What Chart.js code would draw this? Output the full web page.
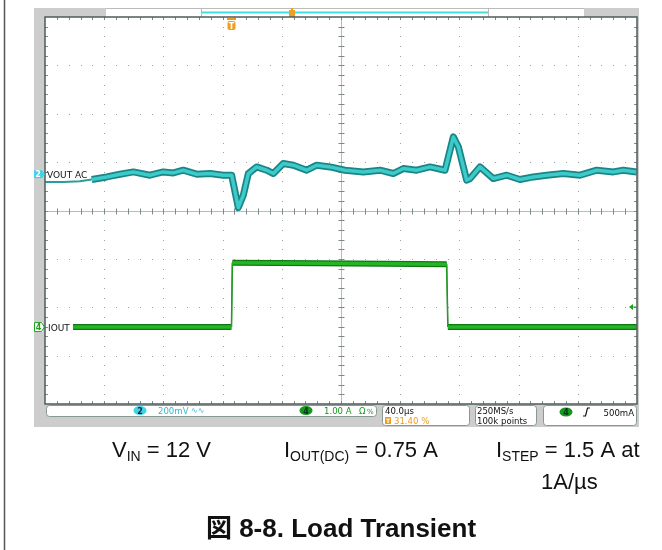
<!DOCTYPE html>
<html>
<head>
<meta charset="utf-8">
<script src="https://cdn.jsdelivr.net/npm/chart.js@4/dist/chart.umd.min.js"></script>
<style>
  html, body { margin: 0; padding: 0; background: #fff; }
  canvas { display: block; }
</style>
</head>
<body>
<canvas id="scope" width="662" height="550"></canvas>
<script>
// time axis (us, 0 = trigger), 40 us/div, trigger at 31.40 % of record
const timePerDiv = 40;
const triggerPct = 31.4;

// channel 2 : VOUT AC (mV), 200 mV/div
const voutPreT = [-125.6, -113.2, -102.0, -94.0];
const voutPreMv = [-31.8, -31.8, -28.9, -21.9];
const voutT = [-94.0, -83.9, -74.9, -65.9, -54.7, -45.7, -38.9, -32.2, -23.1, -14.1, -5.1, 0.5, 5.0, 8.4, 11.8, 17.4,
  24.2, 28.7, 35.4, 42.2, 51.2, 58.0, 67.0, 77.1, 89.5, 100.8, 109.7, 116.5, 125.5, 134.5, 144.7, 150.3, 153.7,
  159.3, 161.6, 168.3, 177.3, 186.4, 195.3, 204.3, 213.4, 224.6, 235.9, 247.2, 258.4, 265.1, 274.2];
const voutMv = [-21.9, -11.2, 0, 9.5, -4.1, 9.5, 5.4, 16.5, 0, 2.9, -4.1, -4.1, -137.7, -86.8, 2.9, 30.2,
  16.5, 2.9, 44.2, 37.2, 16.5, 37.2, 30.2, 16.5, 9.5, 16.5, 2.9, 23.6, 16.5, 30.2, 16.5, 154.2, 112.9,
  -24.8, -17.8, 30.2, -17.8, -4.1, -21.9, -11.2, -4.1, 2.9, -4.1, 16.5, 9.5, 16.5, 9.5];

// channel 4 : IOUT (A), 1.00 A/div
const ioutT = [-106.7, 0.4, 1.0, 60, 145.8, 146.6, 274.4];
const ioutA = [0, 0, 1.33, 1.32, 1.30, 0, 0];
const triggerLevelA = 0.42;

// readouts
const ch2Scale = "200mV";
const ch4Scale = "1.00 A";
const horizScale = "40.0µs";
const trigPosText = "31.40 %";
const sampleRate = "250MS/s";
const recordLen = "100k points";
const trigLevelText = "500mA";

const tMin = -timePerDiv * 10 * triggerPct / 100;
const tMax = tMin + timePerDiv * 10;

function pts(xs, ys) { return xs.map((x, i) => ({ x: x, y: ys[i] })); }

// fast edges of the current step are drawn thin, like on the scope screen
function edgeWidth(flat, steep) {
  return c => Math.abs(c.p1.parsed.x - c.p0.parsed.x) < 2 ? steep : flat;
}

function rrect(ctx, x, y, w, h, r) {
  ctx.beginPath();
  ctx.moveTo(x + r, y);
  ctx.lineTo(x + w - r, y); ctx.quadraticCurveTo(x + w, y, x + w, y + r);
  ctx.lineTo(x + w, y + h - r); ctx.quadraticCurveTo(x + w, y + h, x + w - r, y + h);
  ctx.lineTo(x + r, y + h); ctx.quadraticCurveTo(x, y + h, x, y + h - r);
  ctx.lineTo(x, y + r); ctx.quadraticCurveTo(x, y, x + r, y);
  ctx.closePath();
}

function runs(ctx, x, y, parts) {
  parts.forEach(p => {
    ctx.font = p[1] + 'px "Liberation Sans", Arial, sans-serif';
    ctx.fillText(p[0], x, y + p[2]);
    x += ctx.measureText(p[0]).width;
  });
}

const scopePlugin = {
  id: 'scope',
  beforeDraw(chart) {
    const ctx = chart.ctx, a = chart.chartArea;
    ctx.save();
    ctx.fillStyle = '#fff';
    ctx.fillRect(0, 0, chart.width, chart.height);
    // page rule on the left
    ctx.strokeStyle = '#555';
    ctx.lineWidth = 1.5;
    ctx.beginPath(); ctx.moveTo(4.5, 0); ctx.lineTo(4.5, chart.height); ctx.stroke();
    // scope frame
    ctx.fillStyle = '#cdcdcd';
    ctx.fillRect(34, 8, 605, 419);
    // record strip on top
    ctx.fillStyle = '#fff';
    ctx.fillRect(106, 8, 478, 9);
    ctx.strokeStyle = '#bbb'; ctx.lineWidth = 1;
    ctx.beginPath(); ctx.moveTo(106, 8.5); ctx.lineTo(584, 8.5); ctx.stroke();
    ctx.beginPath(); ctx.moveTo(201.5, 8); ctx.lineTo(201.5, 17); ctx.moveTo(488.5, 8); ctx.lineTo(488.5, 17); ctx.stroke();
    ctx.strokeStyle = '#45dede'; ctx.lineWidth = 2;
    ctx.beginPath(); ctx.moveTo(202, 12.5); ctx.lineTo(488, 12.5); ctx.stroke();
    ctx.fillStyle = '#eea020';
    ctx.fillRect(289, 10, 6, 7);
    ctx.fillRect(291, 8, 2, 2);
    // plot face
    ctx.fillStyle = '#fff';
    ctx.fillRect(a.left, a.top, a.right - a.left, a.bottom - a.top);
    ctx.restore();
  },
  beforeDatasetsDraw(chart) {
    const ctx = chart.ctx, a = chart.chartArea;
    const dx = (a.right - a.left) / 10, dy = (a.bottom - a.top) / 8;
    ctx.save();
    ctx.fillStyle = '#9aa4a4';
    for (let i = 1; i < 10; i++) {
      if (i === 5) continue;
      const x = Math.round(a.left + i * dx);
      for (let j = 1; j < 40; j++) ctx.fillRect(x, Math.round(a.top + j * dy / 5), 1, 1);
    }
    for (let k = 1; k < 8; k++) {
      if (k === 4) continue;
      const y = Math.round(a.top + k * dy);
      for (let j = 1; j < 50; j++) ctx.fillRect(Math.round(a.left + j * dx / 5), y, 1, 1);
    }
    // centre axes
    const cx = Math.round(a.left + 5 * dx) + 0.5, cy = Math.round(a.top + 4 * dy) + 0.5;
    ctx.strokeStyle = '#b4bcbc'; ctx.lineWidth = 1;
    ctx.beginPath();
    ctx.moveTo(cx, a.top); ctx.lineTo(cx, a.bottom);
    ctx.moveTo(a.left, cy); ctx.lineTo(a.right, cy);
    ctx.stroke();
    ctx.strokeStyle = '#7d8a8a';
    ctx.beginPath();
    for (let j = 1; j < 50; j++) {
      const x = Math.round(a.left + j * dx / 5) + 0.5;
      ctx.moveTo(x, cy - 3); ctx.lineTo(x, cy + 3);
      ctx.moveTo(x, a.top); ctx.lineTo(x, a.top + 3);
      ctx.moveTo(x, a.bottom); ctx.lineTo(x, a.bottom - 3);
    }
    for (let j = 1; j < 40; j++) {
      const y = Math.round(a.top + j * dy / 5) + 0.5;
      ctx.moveTo(cx - 3, y); ctx.lineTo(cx + 3, y);
      ctx.moveTo(a.left, y); ctx.lineTo(a.left + 3, y);
      ctx.moveTo(a.right, y); ctx.lineTo(a.right - 3, y);
    }
    ctx.stroke();
    ctx.restore();
  },
  afterDatasetsDraw(chart) {
    const ctx = chart.ctx, a = chart.chartArea;
    const xs = chart.scales.x, yv = chart.scales.yv, yi = chart.scales.yi;
    ctx.save();
    ctx.strokeStyle = '#4d5c5c'; ctx.lineWidth = 1.5;
    ctx.strokeRect(a.left, a.top, a.right - a.left, a.bottom - a.top);

    // trigger position marker
    const tx = Math.round(xs.getPixelForValue(0));
    ctx.fillStyle = '#ee9d1c';
    ctx.fillRect(tx - 4, 18, 9, 2);
    rrect(ctx, tx - 3.5, 21, 8, 9, 2); ctx.fill();
    ctx.fillStyle = '#fff';
    ctx.font = 'bold 8px "DejaVu Sans", sans-serif';
    ctx.textAlign = 'center';
    ctx.fillText('T', tx + 0.5, 28.5);

    // trigger level arrow
    const ty = Math.round(yi.getPixelForValue(triggerLevelA));
    ctx.fillStyle = '#1ea01e';
    ctx.beginPath(); ctx.moveTo(a.right - 8, ty); ctx.lineTo(a.right - 4, ty - 3); ctx.lineTo(a.right - 4, ty + 3); ctx.closePath(); ctx.fill();
    ctx.fillRect(a.right - 4, ty - 0.5, 3, 1);

    // channel 2 label
    const g2 = yv.getPixelForValue(0);
    ctx.fillStyle = '#3fd3e3';
    ctx.fillRect(34, g2 - 4, 8, 8);
    ctx.beginPath(); ctx.moveTo(42, g2 - 4); ctx.lineTo(45, g2); ctx.lineTo(42, g2 + 4); ctx.fill();
    ctx.fillStyle = '#fff';
    ctx.font = 'bold 8px "DejaVu Sans", sans-serif';
    ctx.fillText('2', 38, g2 + 3);
    ctx.textAlign = 'left';
    ctx.fillStyle = '#111';
    ctx.font = '9px "DejaVu Sans", sans-serif';
    ctx.fillText('VOUT AC', 47, g2 + 3.5);

    // channel 4 label
    const g4 = yi.getPixelForValue(0);
    ctx.fillStyle = '#fff';
    ctx.fillRect(34, g4 - 5, 9, 10);
    ctx.strokeStyle = '#1ea01e'; ctx.lineWidth = 1;
    ctx.beginPath();
    ctx.moveTo(34.5, g4 - 4.5); ctx.lineTo(41.5, g4 - 4.5); ctx.lineTo(44.5, g4); ctx.lineTo(41.5, g4 + 4.5); ctx.lineTo(34.5, g4 + 4.5); ctx.closePath();
    ctx.stroke();
    ctx.fillStyle = '#1ea01e';
    ctx.font = 'bold 8px "DejaVu Sans", sans-serif';
    ctx.textAlign = 'center';
    ctx.fillText('4', 38.5, g4 + 3);
    ctx.textAlign = 'left';
    ctx.fillStyle = '#111';
    ctx.font = '9px "DejaVu Sans", sans-serif';
    ctx.fillText('IOUT', 48, g4 + 3.5);
    ctx.restore();
  },
  afterDraw(chart) {
    const ctx = chart.ctx;
    ctx.save();
    const font = '9.5px "DejaVu Sans Condensed", "DejaVu Sans", sans-serif';
    ctx.strokeStyle = '#889a90'; ctx.lineWidth = 1; ctx.fillStyle = '#fff';
    [[46.5, 405.5, 330, 11], [382.5, 405.5, 87, 20], [475.5, 405.5, 61, 20], [543.5, 405.5, 93, 20]].forEach(b => {
      rrect(ctx, b[0], b[1], b[2], b[3], 3); ctx.fill(); ctx.stroke();
    });
    // ch2 readout
    ctx.fillStyle = '#3fd3e3';
    ctx.beginPath(); ctx.ellipse(140, 410.5, 6.5, 4.5, 0, 0, Math.PI * 2); ctx.fill();
    ctx.fillStyle = '#124';
    ctx.font = 'bold 8px "DejaVu Sans", sans-serif';
    ctx.textAlign = 'center';
    ctx.fillText('2', 140, 413.5);
    ctx.textAlign = 'left';
    ctx.fillStyle = '#2fb9d2';
    ctx.font = font;
    ctx.fillText(ch2Scale, 158, 414);
    ctx.font = '8px "DejaVu Sans", sans-serif';
    ctx.fillText('∿∿', 191, 413);
    // ch4 readout
    ctx.fillStyle = '#16981a';
    ctx.beginPath(); ctx.ellipse(306, 410.5, 6.5, 4.5, 0, 0, Math.PI * 2); ctx.fill();
    ctx.fillStyle = '#032';
    ctx.font = 'bold 8px "DejaVu Sans", sans-serif';
    ctx.textAlign = 'center';
    ctx.fillText('4', 306, 413.5);
    ctx.textAlign = 'left';
    ctx.fillStyle = '#16981a';
    ctx.font = font;
    ctx.fillText(ch4Scale, 324, 414);
    ctx.fillText('Ω', 359, 414);
    ctx.font = '7px "DejaVu Sans", sans-serif';
    ctx.fillText('%', 367, 414);
    // horizontal
    ctx.fillStyle = '#111';
    ctx.font = font;
    ctx.fillText(horizScale, 385, 414);
    ctx.fillStyle = '#ee9d1c';
    ctx.fillRect(385, 417, 6, 7);
    ctx.fillStyle = '#fff';
    ctx.font = 'bold 6px "DejaVu Sans", sans-serif';
    ctx.fillText('T', 386, 423);
    ctx.fillStyle = '#ee9d1c';
    ctx.font = font;
    ctx.fillText(trigPosText, 394, 424);
    // acquisition
    ctx.fillStyle = '#111';
    ctx.fillText(sampleRate, 477, 414);
    ctx.fillText(recordLen, 477, 424);
    // trigger
    ctx.fillStyle = '#16981a';
    ctx.beginPath(); ctx.ellipse(566, 412, 6.5, 4.5, 0, 0, Math.PI * 2); ctx.fill();
    ctx.fillStyle = '#032';
    ctx.font = 'bold 8px "DejaVu Sans", sans-serif';
    ctx.textAlign = 'center';
    ctx.fillText('4', 566, 415);
    ctx.strokeStyle = '#111'; ctx.lineWidth = 1.2;
    ctx.beginPath(); ctx.moveTo(583, 416); ctx.lineTo(585.5, 416); ctx.lineTo(587.5, 408); ctx.lineTo(590, 408); ctx.stroke();
    ctx.fillStyle = '#111';
    ctx.font = font;
    ctx.textAlign = 'right';
    ctx.fillText(trigLevelText, 634, 415.5);

    // caption below the screenshot
    ctx.textAlign = 'left';
    ctx.fillStyle = '#111';
    runs(ctx, 112, 457, [['V', 22, 0], ['IN', 14, 4], [' = 12 V', 22, 0]]);
    runs(ctx, 284, 457, [['I', 22, 0], ['OUT(DC)', 14, 4], [' = 0.75 A', 22, 0]]);
    runs(ctx, 496, 457, [['I', 22, 0], ['STEP', 14, 4], [' = 1.5 A at', 22, 0]]);
    runs(ctx, 541, 489, [['1A/µs', 22, 0]]);
    ctx.font = 'bold 26px "Liberation Sans", "Noto Sans CJK JP", Arial, sans-serif';
    ctx.textAlign = 'center';
    ctx.fillText('図 8-8. Load Transient', 341, 537);
    ctx.restore();
  }
};

new Chart(document.getElementById('scope'), {
  type: 'line',
  data: {
    datasets: [
      { data: pts(voutPreT, voutPreMv), yAxisID: 'yv', borderColor: '#2a9c9c', borderWidth: 2, order: 3 },
      { data: pts(voutT, voutMv), yAxisID: 'yv', borderColor: '#1b8585', borderWidth: 7, order: 2 },
      { data: pts(voutT, voutMv), yAxisID: 'yv', borderColor: '#3ccaca', borderWidth: 3.5, order: 1 },
      { data: pts(ioutT, ioutA), yAxisID: 'yi', borderColor: '#0c7a10', borderWidth: 6,
        borderJoinStyle: 'miter', segment: { borderWidth: edgeWidth(6, 1.5) }, order: 2 },
      { data: pts(ioutT, ioutA), yAxisID: 'yi', borderColor: '#25b425', borderWidth: 3.5,
        borderJoinStyle: 'miter', segment: { borderWidth: edgeWidth(3.5, 0.8) }, order: 1 }
    ]
  },
  options: {
    responsive: false,
    animation: false,
    devicePixelRatio: 1,
    layout: { padding: { left: 45, top: 17, right: 25, bottom: 146 } },
    elements: {
      point: { radius: 0 },
      line: { tension: 0, fill: false, borderJoinStyle: 'round', borderCapStyle: 'butt' }
    },
    scales: {
      x: { type: 'linear', min: tMin, max: tMax, display: false },
      yv: { type: 'linear', min: -4.75 * 200, max: 3.25 * 200, display: false },
      yi: { type: 'linear', min: -1.59, max: 6.41, display: false }
    },
    plugins: { legend: { display: false }, tooltip: { enabled: false } }
  },
  plugins: [scopePlugin]
});
</script>
</body>
</html>
